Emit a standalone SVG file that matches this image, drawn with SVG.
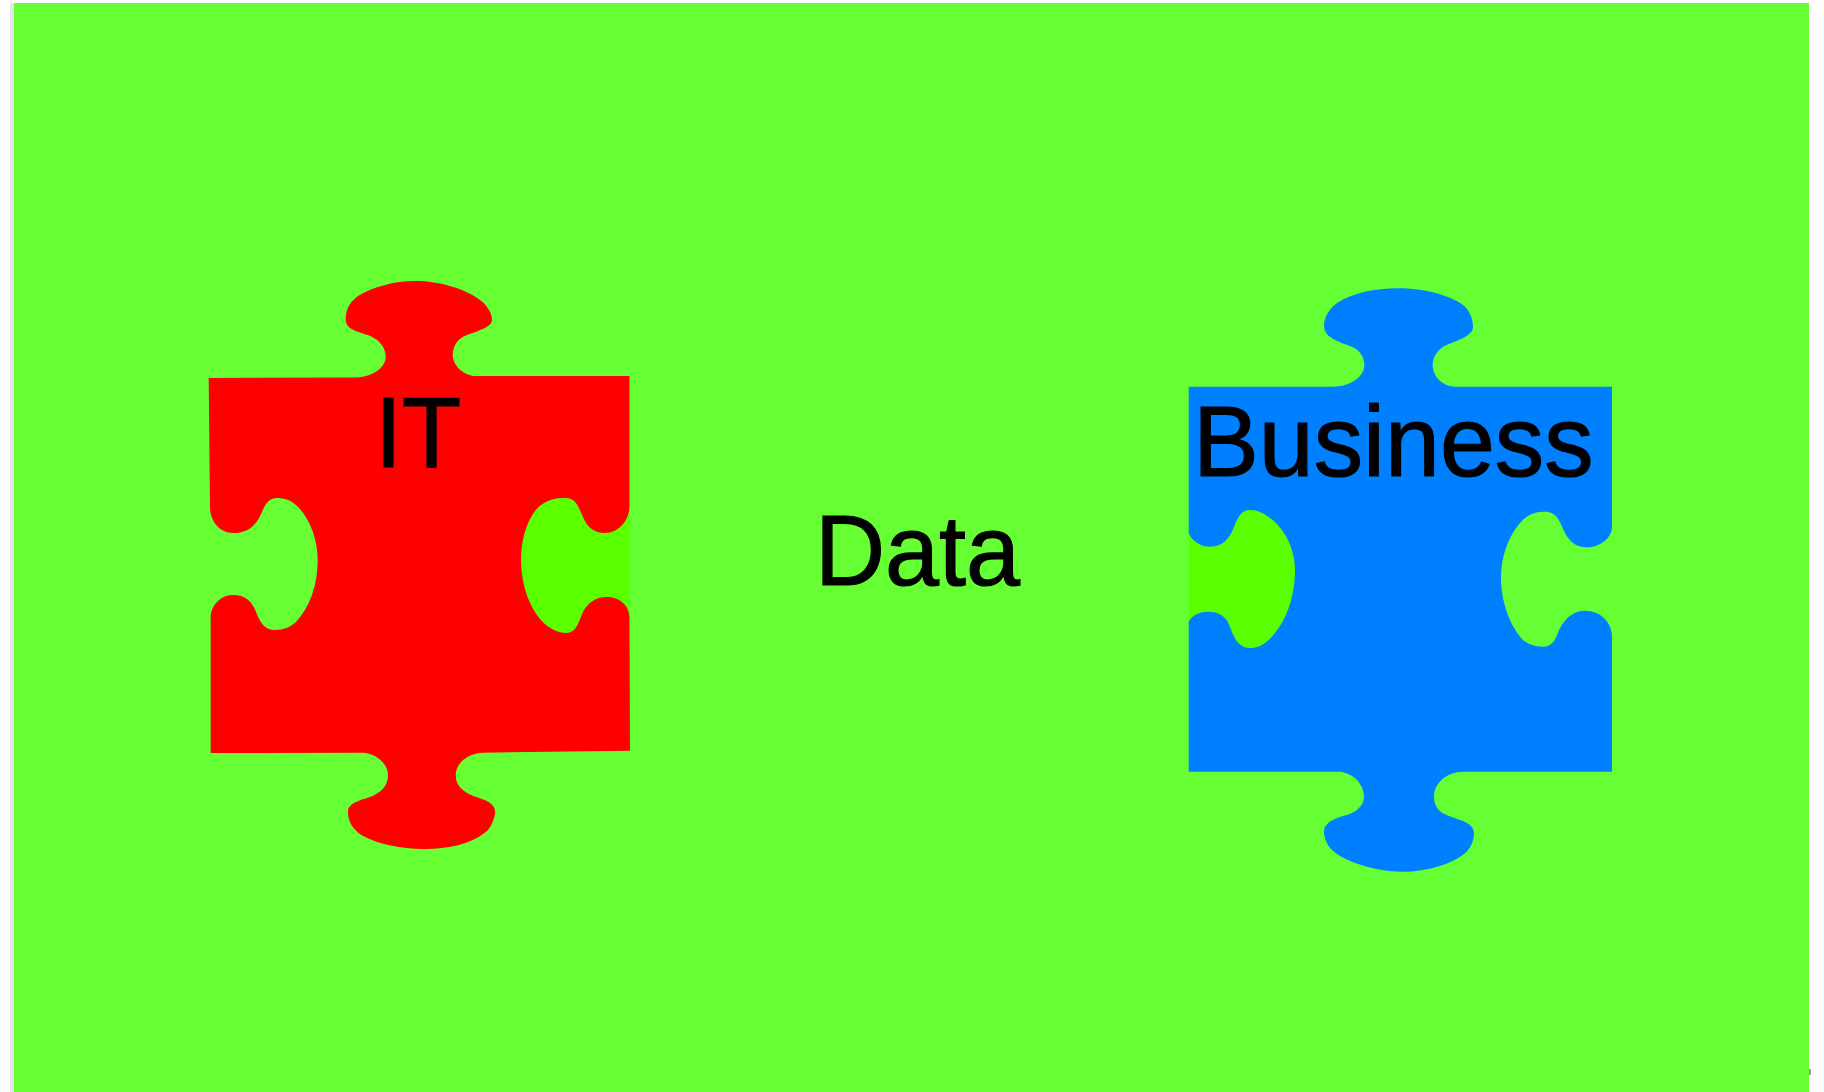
<svg xmlns="http://www.w3.org/2000/svg" width="1824" height="1092" viewBox="0 0 1824 1092">
<style>
.label{font-family:"Liberation Sans",Arial,sans-serif;font-size:100px;fill:#000;stroke:#000;stroke-width:1.2px}
.patch{fill:#5aff00}
</style>
<rect width="1824" height="1092" fill="#fff"/>
<rect x="10" y="3" width="4" height="1089" fill="#e6e6e6"/>
<rect id="background" x="14" y="3" width="1795" height="1089" fill="#66ff33"/>
<rect x="1809" y="1069" width="2" height="6" fill="#999"/>
<g id="it">
<rect class="patch" x="515" y="495" width="114.5" height="142"/>
<path fill="#ff0000" d="M208.7 378 L355 377.5 C372 377 386 368 385.7 356 C385 343 374 337 366 334.5 C356 331 345 329 345.7 318 C346 308 351 301 358 296 C373 287 394 281 415 281 C440 281 466 289 480 300 C488 306 492 314 492 320 C492 327 478 331 467 335 C458 338 452.7 346 452.7 355 C453 366 464 376 476 376 L629.5 376 L629.5 506 C629.5 520 619 533 605 533 C594 533 587 527 583 517 C578 506 576 498 565 498 C552 497 541 503 535 511 C526 523 521 541 521 560 C521 585 530 611 546 625 C552 630 560 633 566 633 C575 633 578 625 582 614 C587 603 595 597 607 597 C619 597 629.5 605 629.5 618 L630 750.7 L483 752.7 C468 753 455.7 763 455.7 775 C455.7 786 463 791 471 795 C480 799 495 801 495 811.7 C495 817 492 826 487 831 C472 844 448 849 423 849 C402 849 378 844 363 836 C352 829 348 821 348 811.7 C348 803 361 800 370 797 C380 793 388 787 388 775 C388 763 375 753 363 752.7 L210.7 753 L210.7 618 C210.7 605 221 595 233 595 C245 595 252 601 256 612 C260 622 264 630 275 630 C283 630 291 627 296 622 C310 607 317.7 585 317.7 560 C317.7 540 310 518 297 506 C291 500 284 498 277 498 C268 498 265 505 261 514 C256 526 247 533 233 533 C219 533 210 520 210 507 Z"/>
<text class="label" x="375" y="467" textLength="86" lengthAdjust="spacingAndGlyphs">IT</text>
</g>
<g id="business">
<rect class="patch" x="1188.7" y="505" width="112" height="150"/>
<path fill="#0080ff" d="M1188.7 386.7 L1333 386.7 C1350 386.7 1364.3 377 1364.3 365 C1364.3 355 1358 349 1350 346 C1340 342 1324 338 1324 326 C1324 317 1329 309 1337 303 C1352 293 1375 288.3 1398 288.3 C1424 288.3 1449 295 1463 305 C1470 311 1473 319 1473 326.7 C1473 336 1458 340 1446.7 345 C1439 348 1432.7 356 1432.7 365 C1432.7 377 1443 386.7 1456 386.7 L1612 386.7 L1612 526.7 C1612 538 1600 547.3 1586.7 547.3 C1576 547.3 1569 541 1565 533 C1560 522 1557 511.7 1545 511.7 C1534 511 1526 516 1520 523 C1508 537 1501 557 1501 578 C1501 600 1509 625 1523 640 C1529 645 1536 646.7 1543 646.7 C1552 646.7 1555 640 1558 633 C1562 622 1571 610.7 1585 610.7 C1600 610.7 1612 622 1612 636.7 L1612 771.7 L1463 771.7 C1447 771.7 1434 783 1434 796.7 C1434 806 1439 812 1446.7 815 C1458 820 1474 822 1474 833 C1474 839 1472 846 1466.7 851.7 C1453 864 1428 871.7 1401.7 871.7 C1376 871.7 1345 862 1332 850 C1327 845 1324 838 1324 831.7 C1324 822 1336 818 1346.7 815 C1356 812 1364 806 1364 796.7 C1364 783 1352 773 1340 771.7 L1188.7 771.7 L1188.7 621.7 C1192 615 1200 611.7 1208 611.7 C1217 611.7 1223 615 1226.7 620 C1232 628 1234 648 1250 648 C1257 648 1262 645 1266.7 641.7 C1284 627 1295 600 1295 570 C1295 550 1286 530 1270 518 C1264 513 1257 510 1250 510 C1242 510 1239 516 1236 522 C1231 536 1225 546.7 1210 546.7 C1200 546.7 1192 541 1188.7 533 Z"/>
<text class="label" x="1193" y="476" textLength="400.5" lengthAdjust="spacingAndGlyphs">Business</text>
</g>
<g id="data">
<text class="label" x="815" y="584.5" textLength="205" lengthAdjust="spacingAndGlyphs">Data</text>
</g>
<g id="connectors"/>
</svg>
